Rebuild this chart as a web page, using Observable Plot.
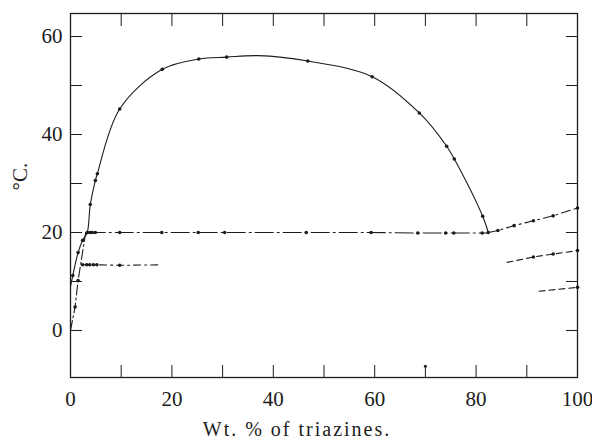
<!DOCTYPE html>
<html><head><meta charset="utf-8">
<script src="https://cdn.jsdelivr.net/npm/d3@7"></script>
<script src="https://cdn.jsdelivr.net/npm/@observablehq/plot@0.6"></script>
<style>body{margin:0;background:#fff} svg{display:block}</style>
</head><body><div id="chart"></div>
<script>
// Liquidus dome (upper curve)
const domeX = [0, 0.45, 1.5, 2.4, 3.3, 3.9, 4.9, 5.3, 9.7, 18.1, 25.3, 30.8, 37, 46.8, 59.5, 68.8, 74.2, 75.7, 81.3, 82.4];
const domeY = [9, 11.2, 15.9, 18.4, 20, 25.7, 30.6, 32, 45.2, 53.3, 55.4, 55.8, 56.1, 55.0, 51.8, 44.4, 37.6, 35.0, 23.3, 20];
const domeDot = [0, 1, 1, 1, 0, 1, 1, 1, 1, 1, 1, 1, 0, 1, 1, 1, 1, 1, 1, 0];
// steep line from origin
const riseX = [0, 0.9, 1.5, 2.2, 3.0];
const riseY = [0, 4.8, 10.2, 14.8, 20];
const riseDot = [0, 1, 1, 0, 0];
// 20 degree line
const flat20X = [3.3, 3.8, 4.3, 4.9, 9.7, 18, 25.2, 30.4, 46.5, 59.3, 68.5, 74, 75.6, 81.2, 82.4];
const flat20Y = [20, 20, 20, 20, 20, 20, 20, 20, 20, 20, 19.9, 19.9, 19.9, 19.9, 19.9];
const flat20Dot = [1, 1, 1, 1, 1, 1, 1, 1, 1, 1, 1, 1, 1, 1, 0];
// 13.5 degree line
const flat13X = [2.4, 3.2, 3.8, 4.5, 5.2, 9.7, 17.6];
const flat13Y = [13.4, 13.4, 13.4, 13.4, 13.4, 13.3, 13.4];
const flat13Dot = [1, 1, 1, 1, 1, 1, 0];
// right branches
const rightUpX = [82.4, 84.3, 87.5, 91.3, 95.2, 100];
const rightUpY = [20, 20.4, 21.4, 22.4, 23.4, 25.0];
const rightUpDot = [1, 1, 1, 1, 1, 1];
const rightMidX = [86.1, 91.3, 95.2, 100];
const rightMidY = [13.9, 15.0, 15.6, 16.3];
const rightMidDot = [0, 1, 1, 1];
const rightLowX = [92.4, 100];
const rightLowY = [8.0, 8.8];
const rightLowDot = [0, 1];
const strayX = [70];
const strayY = [-7.3];

const xTicks = [0, 10, 20, 30, 40, 50, 60, 70, 80, 90, 100];
const xLabels = [0, 20, 40, 60, 80, 100];
const yTicks = [0, 10, 20, 30, 40, 50, 60];
const yLabels = [0, 20, 40, 60];
const xTitle = "Wt. % of triazines.";
const yTitle = "°C.";

const rows = (xs, ys, ds) => xs.map((x, i) => ({x, y: ys[i], dot: ds ? ds[i] : 1}));
const series = [
  {data: rows(domeX, domeY, domeDot), dash: null, curve: "catmull-rom"},
  {data: rows(riseX, riseY, riseDot), dash: "10 3 2 3", curve: "linear"},
  {data: rows(flat20X, flat20Y, flat20Dot), dash: "18 4 2 4", curve: "linear"},
  {data: rows(flat13X, flat13Y, flat13Dot), dash: "7 4 2 4", curve: "linear"},
  {data: rows(rightUpX, rightUpY, rightUpDot), dash: "9 4 2 4", curve: "linear"},
  {data: rows(rightMidX, rightMidY, rightMidDot), dash: "6 4", curve: "linear"},
  {data: rows(rightLowX, rightLowY, rightLowDot), dash: "6 4", curve: "linear"}
];
const ink = "#1c1c1c";
const marks = [];
for (const s of series) {
  marks.push(Plot.line(s.data, {x: "x", y: "y", stroke: ink, strokeWidth: 1.1, strokeDasharray: s.dash, curve: s.curve}));
  marks.push(Plot.dot(s.data.filter(d => d.dot), {x: "x", y: "y", r: 1.8, fill: ink, stroke: null}));
}
marks.push(Plot.dot(rows(strayX, strayY), {x: "x", y: "y", r: 1.5, fill: ink, stroke: null}));

const fontFam = "'Liberation Serif', 'DejaVu Serif', serif";
const chart = Plot.plot({
  width: 592, height: 442,
  marginLeft: 70, marginRight: 15, marginTop: 13, marginBottom: 65,
  style: {fontFamily: fontFam, fontSize: "21px", color: ink, background: "#fff"},
  x: {domain: [0, 100]},
  y: {domain: [-9.6, 64.7]},
  marks: [
    Plot.frame({stroke: ink, strokeWidth: 1.3}),
    Plot.axisX(xTicks, {anchor: "bottom", tickSize: -12, tickFormat: () => "", label: null}),
    Plot.axisX(xTicks.slice(1, -1), {anchor: "top", tickSize: -12, tickFormat: () => "", label: null}),
    Plot.axisX(xLabels, {anchor: "bottom", tickSize: 0, tickPadding: 14, fontSize: 21, label: null}),
    Plot.axisY(yTicks, {anchor: "left", tickSize: -12, tickFormat: () => "", label: null}),
    Plot.axisY(yTicks, {anchor: "right", tickSize: -12, tickFormat: () => "", label: null}),
    Plot.axisY(yLabels, {anchor: "left", tickSize: 0, tickPadding: 8, fontSize: 21, label: null}),
    ...marks,
    Plot.text([xTitle], {frameAnchor: "bottom", dx: -27, dy: 58, fontSize: 20, fill: ink}),
    Plot.text([yTitle], {frameAnchor: "left", dx: -50, dy: -5, rotate: -90, fontSize: 21, fill: ink})
  ]
});
d3.select(chart).selectAll("text")
  .filter(function () { return this.textContent === xTitle; })
  .attr("letter-spacing", "2px");
document.getElementById("chart").appendChild(chart);
</script>
</body></html>
